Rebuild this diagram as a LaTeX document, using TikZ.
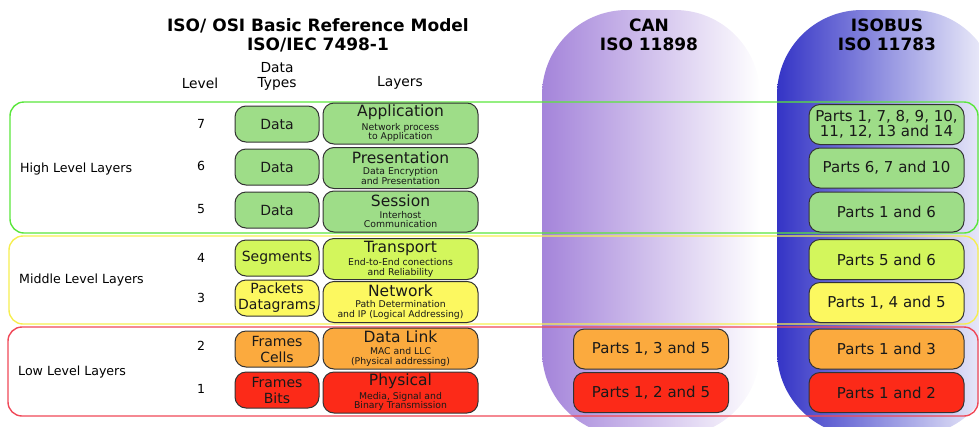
\documentclass[tikz,border=0pt]{standalone}
\usepackage{fontspec}
\setmainfont{DejaVu Sans}
\usepackage{tikz}

\definecolor{HighGreen}{HTML}{9EDD88}
\definecolor{MidLime}{HTML}{D3F65C}
\definecolor{MidYellow}{HTML}{FCF860}
\definecolor{LowOrange}{HTML}{FBAA3E}
\definecolor{LowRed}{HTML}{FC2A18}
\definecolor{LineGreen}{HTML}{5AE63C}
\definecolor{LineYellow}{HTML}{F6EE50}
\definecolor{LineRed}{HTML}{F04858}
\definecolor{CanPurple}{HTML}{A484DA}
\definecolor{BusBlue}{HTML}{3434C6}

\tikzset{
  boxbase/.style={draw=black!80, line width=1pt, rounded corners=11pt, inner sep=0pt, align=center, text=black!90},
  layerbox/.style={boxbase, minimum width=155pt, minimum height=41pt, font=\fontsize{9.3}{9.6}\selectfont},
  databox/.style={boxbase, minimum width=84pt, minimum height=36pt, font=\fontsize{14}{16}\selectfont},
  partsbox/.style={boxbase, minimum width=155pt, minimum height=40pt, font=\fontsize{15}{15.5}\selectfont},
  headtxt/.style={align=center, font=\fontsize{13.8}{15}\selectfont},
  titletxt/.style={align=center, font=\bfseries\fontsize{17}{19}\selectfont},
  grouptxt/.style={anchor=west, inner sep=0pt, font=\fontsize{12.6}{14}\selectfont},
  leveltxt/.style={font=\fontsize{12.5}{14}\selectfont},
  groupline/.style={line width=1.4pt, rounded corners=14pt},
}
\newcommand{\laytitle}[1]{{\fontsize{15.5}{15.5}\selectfont #1}\\[2pt]}

\begin{document}
\begin{tikzpicture}[x=1pt, y=-1pt]
\useasboundingbox (0,0) rectangle (979,426);
\clip (0,0) rectangle (979,426);
% columns behind everything
\shade[left color=CanPurple, right color=white, rounded corners=85pt] (542,10) rectangle (760,436);
\shade[left color=BusBlue, right color=BusBlue!4, rounded corners=85pt] (777,10) rectangle (997,436);
%
\node[titletxt] (osititle) at (318,35) {ISO/ OSI Basic Reference Model\\ISO/IEC 7498-1};
\node[titletxt] (cantitle) at (649,35) {CAN\\ISO 11898};
\node[titletxt] (bustitle) at (887,35) {ISOBUS\\ISO 11783};
%
\node[headtxt] (hlevel) at (200,83) {Level};
\node[headtxt] (htypes) at (277,76) {Data\\Types};
\node[headtxt] (hlayers) at (400,83) {Layers};
%
\draw[groupline, LineGreen] (10,102) rectangle (978,233);
\draw[groupline, LineYellow] (9,236) rectangle (978,324);
\draw[groupline, LineRed] (8,327) rectangle (978,416);
%
\node[grouptxt] (high) at (20,169) {High Level Layers};
\node[grouptxt] (middle) at (19,280) {Middle Level Layers};
\node[grouptxt] (low) at (18,372) {Low Level Layers};
%
\node[leveltxt] (lv7) at (201,124) {7};
\node[leveltxt] (lv6) at (201,166) {6};
\node[leveltxt] (lv5) at (201,209) {5};
\node[leveltxt] (lv4) at (201,258) {4};
\node[leveltxt] (lv3) at (201,298) {3};
\node[leveltxt] (lv2) at (201,346) {2};
\node[leveltxt] (lv1) at (201,389) {1};
%
\node[databox, fill=HighGreen] (data7) at (277,124) {Data};
\node[databox, fill=HighGreen] (data6) at (277,167) {Data};
\node[databox, fill=HighGreen] (data5) at (277,210) {Data};
\node[databox, fill=MidLime] (data4) at (277,258) {Segments};
\node[databox, fill=MidYellow] (data3) at (277,298) {Packets\\Datagrams};
\node[databox, fill=LowOrange] (data2) at (277,349) {Frames\\Cells};
\node[databox, fill=LowRed] (data1) at (277,390) {Frames\\Bits};
%
\node[layerbox, fill=HighGreen] (application) at (400.5,123.5) {\laytitle{Application}Network process\\to Application};
\node[layerbox, fill=HighGreen] (presentation) at (400.5,168) {\laytitle{Presentation}Data Encryption\\and Presentation};
\node[layerbox, fill=HighGreen] (session) at (400.5,211.5) {\laytitle{Session}Interhost\\Communication};
\node[layerbox, fill=MidLime] (transport) at (400.5,259) {\laytitle{Transport}End-to-End conections\\and Reliability};
\node[layerbox, fill=MidYellow] (network) at (400.5,302) {\laytitle{Network}Path Determination\\and IP (Logical Addressing)};
\node[layerbox, fill=LowOrange] (datalink) at (400.5,348.5) {\laytitle{Data Link}MAC and LLC\\(Physical addressing)};
\node[layerbox, fill=LowRed] (physical) at (400.5,392.5) {\laytitle{Physical}Media, Signal and\\Binary Transmission};
%
\node[partsbox, fill=LowOrange] (can2) at (651,349) {Parts 1, 3 and 5};
\node[partsbox, fill=LowRed] (can1) at (651,392.5) {Parts 1, 2 and 5};
%
\node[partsbox, fill=HighGreen] (bus7) at (886.5,124.5) {Parts 1, 7, 8, 9, 10,\\11, 12, 13 and 14};
\node[partsbox, fill=HighGreen] (bus6) at (886.5,168) {Parts 6, 7 and 10};
\node[partsbox, fill=HighGreen] (bus5) at (886.5,212) {Parts 1 and 6};
\node[partsbox, fill=MidLime] (bus4) at (886.5,259.5) {Parts 5 and 6};
\node[partsbox, fill=MidYellow] (bus3) at (886.5,302.5) {Parts 1, 4 and 5};
\node[partsbox, fill=LowOrange] (bus2) at (886.5,349) {Parts 1 and 3};
\node[partsbox, fill=LowRed] (bus1) at (886.5,392.5) {Parts 1 and 2};
\end{tikzpicture}
\end{document}
